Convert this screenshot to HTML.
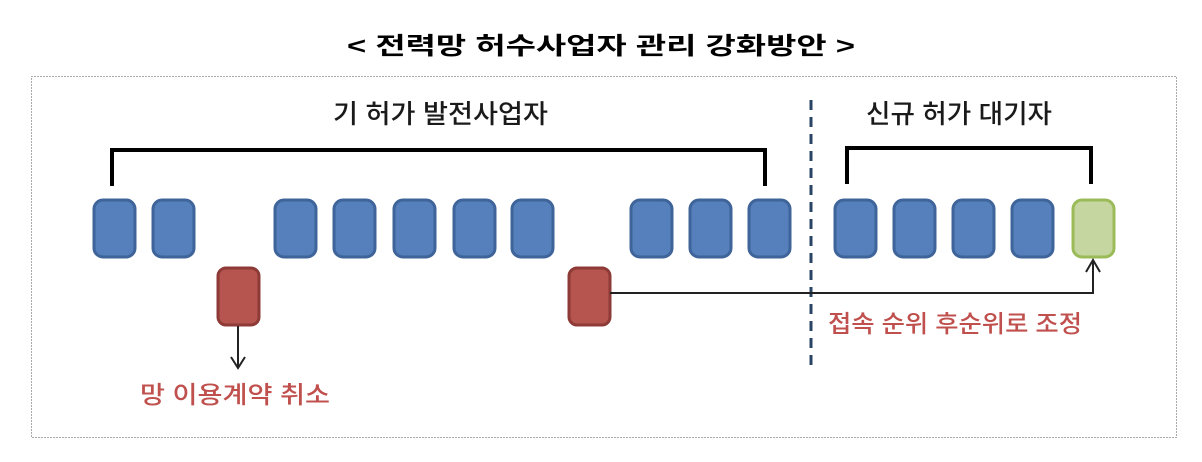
<!DOCTYPE html>
<html><head><meta charset="utf-8"><style>
html,body{margin:0;padding:0;background:#fff;width:1202px;height:462px;overflow:hidden}
text{font-family:"Liberation Sans","Noto Sans CJK KR","NanumGothic",sans-serif}
</style></head><body>
<svg width="1202" height="462" viewBox="0 0 1202 462" xmlns="http://www.w3.org/2000/svg">
<text x="601" y="54" text-anchor="middle" font-size="24" font-weight="bold" fill="#000" textLength="508" lengthAdjust="spacingAndGlyphs">&lt; 전력망 허수사업자 관리 강화방안 &gt;</text>
<rect x="31.5" y="76.5" width="1145" height="361" fill="none" stroke="#555" stroke-width="1" stroke-dasharray="1,2"/>
<text x="333" y="123" font-size="26" font-weight="500" fill="#1a1a1a" textLength="215" lengthAdjust="spacingAndGlyphs">기 허가 발전사업자</text>
<text x="866" y="123" font-size="26" font-weight="500" fill="#1a1a1a" textLength="186" lengthAdjust="spacingAndGlyphs">신규 허가 대기자</text>
<line x1="811" y1="100" x2="811" y2="366" stroke="#2a4466" stroke-width="3" stroke-dasharray="10,7"/>
<polyline points="112,186 112,150 765,150 765,186" fill="none" stroke="#000" stroke-width="4"/>
<polyline points="847,184 847,148 1091,148 1091,184" fill="none" stroke="#000" stroke-width="4"/>
<g fill="#5580bb" stroke="#3f649a" stroke-width="3">
<rect x="94" y="200" width="41" height="57" rx="9"/>
<rect x="153" y="200" width="41" height="57" rx="9"/>
<rect x="275" y="200" width="41" height="57" rx="9"/>
<rect x="334" y="200" width="41" height="57" rx="9"/>
<rect x="394" y="200" width="41" height="57" rx="9"/>
<rect x="454" y="200" width="41" height="57" rx="9"/>
<rect x="512" y="200" width="41" height="57" rx="9"/>
<rect x="631" y="200" width="41" height="57" rx="9"/>
<rect x="690" y="200" width="41" height="57" rx="9"/>
<rect x="749" y="200" width="41" height="57" rx="9"/>
<rect x="835" y="200" width="41" height="57" rx="9"/>
<rect x="894" y="200" width="41" height="57" rx="9"/>
<rect x="953" y="200" width="41" height="57" rx="9"/>
<rect x="1012" y="200" width="41" height="57" rx="9"/>
</g>
<rect x="1073" y="200" width="41" height="57" rx="9" fill="#c5d6a0" stroke="#9bbb59" stroke-width="3"/>
<g fill="#b65450" stroke="#8e3b38" stroke-width="3">
<rect x="218" y="268" width="41" height="57" rx="8"/>
<rect x="569" y="268" width="41" height="57" rx="8"/>
</g>
<g fill="none" stroke="#222" stroke-width="2">
<line x1="238" y1="326" x2="238" y2="368"/>
<polyline points="231,357 238,368 245,357"/>
<polyline points="610,293 1093,293 1093,260"/>
<polyline points="1086,272 1093,260 1100,272"/>
</g>
<text x="140" y="403" font-size="24" font-weight="500" fill="#c0504d" textLength="190" lengthAdjust="spacingAndGlyphs">망 이용계약 취소</text>
<text x="828" y="332" font-size="24" font-weight="500" fill="#c0504d" textLength="254" lengthAdjust="spacingAndGlyphs">접속 순위 후순위로 조정</text>
</svg>
</body></html>
